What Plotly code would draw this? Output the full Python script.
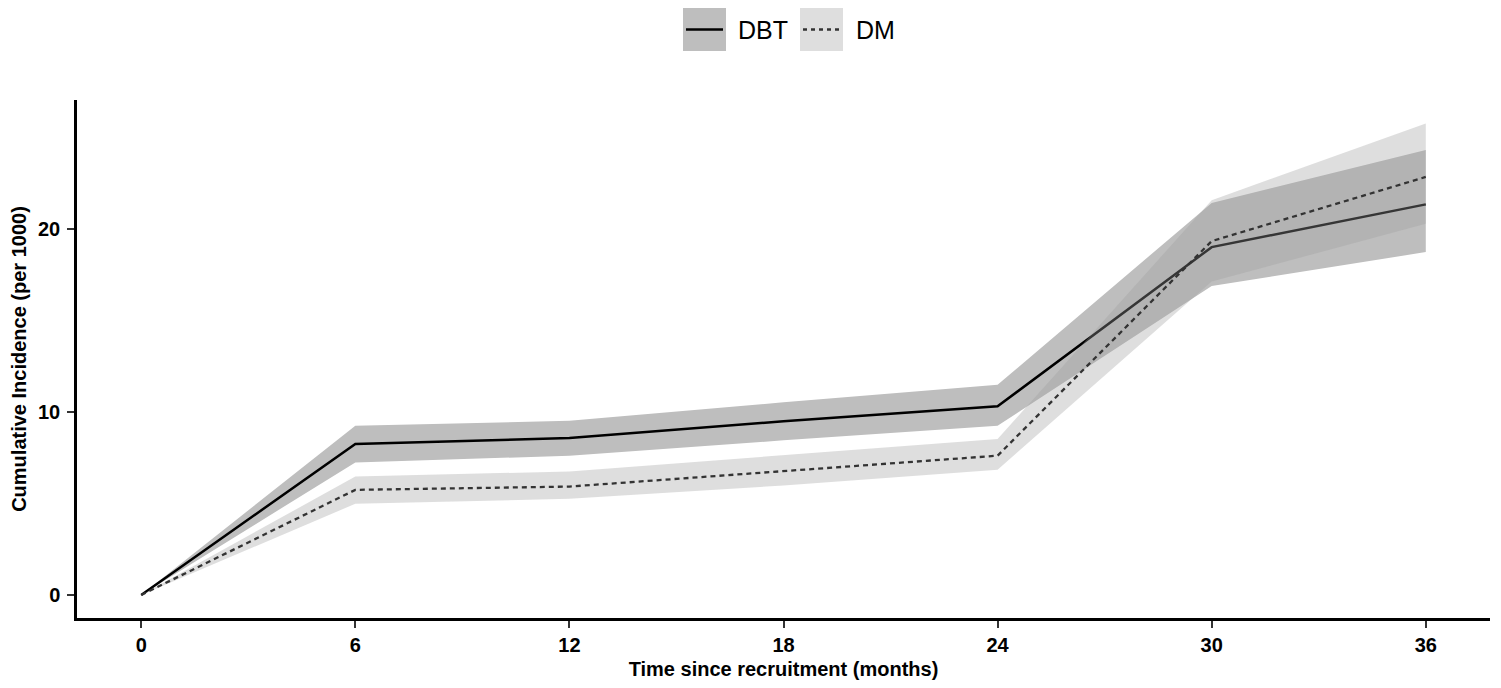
import plotly.graph_objects as go

# ---- data ----
months = [0, 6, 12, 18, 24, 30, 36]
dbt = [0, 8.26, 8.59, 9.50, 10.32, 19.03, 21.37]
dbt_lo = [0, 7.25, 7.62, 8.46, 9.26, 16.90, 18.76]
dbt_hi = [0, 9.26, 9.53, 10.54, 11.50, 21.45, 24.35]
dm = [0, 5.75, 5.93, 6.79, 7.62, 19.36, 22.87]
dm_lo = [0, 4.99, 5.26, 5.99, 6.85, 17.15, 20.31]
dm_hi = [0, 6.48, 6.76, 7.63, 8.53, 21.60, 25.79]
x_ticks = [0, 6, 12, 18, 24, 30, 36]
y_ticks = [0, 10, 20]
series_names = ["DBT", "DM"]

FONT = "Liberation Sans, Arial, Helvetica, sans-serif"

# page has an 8px body margin; figure sized so that screen coords = 8 + figure coords
OFF = 8
W, H = 1501 - 2 * OFF, 688 - 2 * OFF
# target screen-space plot area: x 77..1490, y 100..618
ML = 77 - OFF
MT = 100 - OFF
MR = W - (1490 - OFF)
MB = H - (618 - OFF)
PW, PH = W - ML - MR, H - MT - MB


def px(xs):
    """screen x pixel -> paper x"""
    return (xs - OFF - ML) / PW


def py(ys):
    """screen y pixel -> paper y"""
    return (H - MB - (ys - OFF)) / PH


fig = go.Figure()

# DBT ribbon
fig.add_trace(go.Scatter(
    x=months + months[::-1], y=dbt_hi + dbt_lo[::-1],
    fill="toself", fillcolor="#BEBEBE", mode="lines",
    line=dict(width=0, color="rgba(0,0,0,0)"), hoverinfo="skip", showlegend=False))
# DBT line
fig.add_trace(go.Scatter(
    x=months, y=dbt, mode="lines", name=series_names[0],
    line=dict(color="black", width=2.5), showlegend=False))
# DM ribbon (semi-transparent, drawn on top)
fig.add_trace(go.Scatter(
    x=months + months[::-1], y=dm_hi + dm_lo[::-1],
    fill="toself", fillcolor="rgba(157,157,157,0.34)", mode="lines",
    line=dict(width=0, color="rgba(0,0,0,0)"), hoverinfo="skip", showlegend=False))
# DM line
fig.add_trace(go.Scatter(
    x=months, y=dm, mode="lines", name=series_names[1],
    line=dict(color="#333333", width=2.3, dash="5px,4px"), showlegend=False))

# ---- manual legend (ggplot style keys) ----
shapes = []
annotations = []
shapes.append(dict(type="rect", xref="paper", yref="paper",
                   x0=px(683), x1=px(726), y0=py(51), y1=py(8),
                   fillcolor="#BEBEBE", line=dict(width=0), layer="above"))
shapes.append(dict(type="line", xref="paper", yref="paper",
                   x0=px(686), x1=px(723), y0=py(29.5), y1=py(29.5),
                   line=dict(color="black", width=2.5), layer="above"))
shapes.append(dict(type="rect", xref="paper", yref="paper",
                   x0=px(800), x1=px(843), y0=py(51), y1=py(8),
                   fillcolor="#DEDEDE", line=dict(width=0), layer="above"))
shapes.append(dict(type="line", xref="paper", yref="paper",
                   x0=px(803), x1=px(840), y0=py(29.5), y1=py(29.5),
                   line=dict(color="#333333", width=2.3, dash="4px,4px"), layer="above"))
annotations.append(dict(text=series_names[0], xref="paper", yref="paper",
                        x=px(736), y=py(30), xanchor="left", yanchor="middle",
                        showarrow=False, font=dict(family=FONT, size=25, color="black")))
annotations.append(dict(text=series_names[1], xref="paper", yref="paper",
                        x=px(854), y=py(30), xanchor="left", yanchor="middle",
                        showarrow=False, font=dict(family=FONT, size=25, color="black")))

axis_common = dict(
    showline=True, linecolor="black", linewidth=2.5, mirror=False,
    ticks="outside", ticklen=7, tickwidth=2, tickcolor="#333333",
    showgrid=False, zeroline=False,
    tickfont=dict(family=FONT, size=20, color="black", weight="bold"),
)

fig.update_layout(
    width=W, height=H,
    margin=dict(l=ML, r=MR, t=MT, b=MB, pad=0, autoexpand=False),
    paper_bgcolor="white", plot_bgcolor="white",
    font=dict(family=FONT),
    shapes=shapes, annotations=annotations,
    xaxis=dict(range=[-1.8, 37.8], tickvals=x_ticks,
               ticktext=[str(v) for v in x_ticks],
               title=dict(text="Time since recruitment (months)", standoff=8,
                          font=dict(family=FONT, size=20, color="black", weight="bold")),
               **axis_common),
    yaxis=dict(range=[-1.26, 27.08], tickvals=y_ticks,
               ticktext=[str(v) for v in y_ticks],
               ticklabelstandoff=3,
               title=dict(text="Cumulative Incidence (per 1000)", standoff=8,
                          font=dict(family=FONT, size=20, color="black", weight="bold")),
               **axis_common),
    showlegend=False,
)

fig.write_html("out.html")
